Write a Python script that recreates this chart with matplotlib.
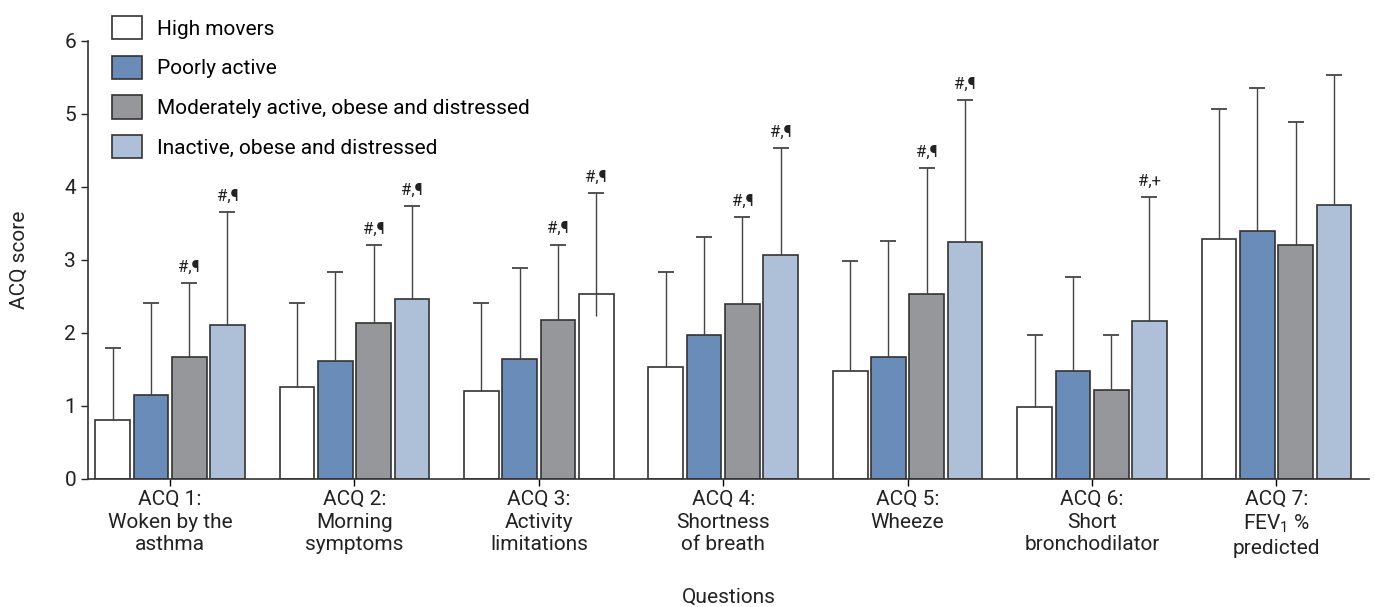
import numpy as np
import matplotlib
matplotlib.use("Agg")
import matplotlib.pyplot as plt

plt.rcParams['font.family'] = ['Roboto', 'DejaVu Sans']
plt.rcParams['mathtext.default'] = 'regular'

# ACQ item scores per cluster (mean and SD)
questions = ["ACQ 1:\nWoken by the\nasthma", "ACQ 2:\nMorning\nsymptoms",
             "ACQ 3:\nActivity\nlimitations", "ACQ 4:\nShortness\nof breath",
             "ACQ 5:\nWheeze", "ACQ 6:\nShort\nbronchodilator",
             "ACQ 7:\nFEV$_1$ %\npredicted"]
groups = ["High movers", "Poorly active",
          "Moderately active, obese and distressed",
          "Inactive, obese and distressed"]

high_mean = [0.80, 1.25, 1.20, 1.53, 1.47, 0.98, 3.29]
high_sd = [0.99, 1.16, 1.21, 1.30, 1.52, 0.99, 1.78]
poor_mean = [1.15, 1.61, 1.64, 1.97, 1.67, 1.47, 3.40]
poor_sd = [1.26, 1.22, 1.25, 1.34, 1.59, 1.29, 1.96]
moderate_mean = [1.67, 2.14, 2.17, 2.40, 2.53, 1.21, 3.20]
moderate_sd = [1.01, 1.06, 1.04, 1.19, 1.73, 0.76, 1.69]
inactive_mean = [2.11, 2.46, 2.53, 3.07, 3.25, 2.16, 3.75]
inactive_sd = [1.55, 1.28, 1.39, 1.46, 1.94, 1.70, 1.78]

# significance marks above the error bars
high_sig = [""] * 7
poor_sig = [""] * 7
moderate_sig = ["#,¶", "#,¶", "#,¶", "#,¶", "#,¶", "", ""]
inactive_sig = ["#,¶", "#,¶", "#,¶", "#,¶", "#,¶", "#,+", ""]

means = [high_mean, poor_mean, moderate_mean, inactive_mean]
sds = [high_sd, poor_sd, moderate_sd, inactive_sd]
sigs = [high_sig, poor_sig, moderate_sig, inactive_sig]
colors = ["white", "#6a8cb9", "#96979a", "#aebfd8"]

# the ACQ 3 bar of the last group is printed unfilled, whisker starting inside it
unfilled = (3, 2)
whisker_start = {(3, 2): 2.23}

fig = plt.figure(figsize=(13.75, 6.07), dpi=100)
ax = fig.add_axes([0.064, 0.2114, 0.9319, 0.7211])

x = np.arange(len(questions))
width = 0.188
step = 0.2076
edge = "#333333"

for g in range(4):
    xs = x + (g - 1.5) * step
    m = np.array(means[g])
    s = np.array(sds[g])
    face = [colors[g]] * len(m)
    if unfilled[0] == g:
        face[unfilled[1]] = "white"
    ax.bar(xs, m, width, color=face, edgecolor=edge, linewidth=1.2,
           label=groups[g], zorder=2)
    lows = np.array([whisker_start.get((g, i), m[i]) for i in range(len(m))])
    ax.vlines(xs, lows, m + s, color="#444444", linewidth=1.0, zorder=3)
    ax.plot(xs, m + s, ls="none", marker="_", ms=11.5, mew=1.3,
            color="#444444", zorder=3)
    for i, txt in enumerate(sigs[g]):
        if txt:
            ax.annotate(txt, (xs[i], m[i] + s[i]), xytext=(0, 6),
                        textcoords="offset points", ha="center", va="bottom",
                        fontsize=12, color="#222222")

ax.set_xlim(-0.445, 6.504)
ax.set_ylim(0, 6)
ax.set_yticks(range(7))
ax.set_xticks(x)
ax.set_xticklabels(questions, fontsize=15, color="#222222", linespacing=1.25)
ax.tick_params(axis="y", labelsize=15, colors="#222222", length=5, width=1)
ax.tick_params(axis="x", length=5, width=1, pad=3)
for side in ["top", "right"]:
    ax.spines[side].set_visible(False)
for side in ["left", "bottom"]:
    ax.spines[side].set_color("#333333")
    ax.spines[side].set_linewidth(1.2)

ax.set_xlabel("Questions", fontsize=15, color="#222222")
ax.xaxis.set_label_coords(0.5, -0.25)
ax.set_ylabel("ACQ score", fontsize=15, color="#222222")
ax.yaxis.set_label_coords(-0.046, 0.5)

ax.legend(loc="upper left", bbox_to_anchor=(112 / 1375, 1 - 16 / 607),
          bbox_transform=fig.transFigure, frameon=False, fontsize=15,
          handlelength=1.45, handleheight=1.35, labelspacing=0.78,
          handletextpad=0.7, borderpad=0, borderaxespad=0)

fig.savefig("out.png", dpi=100)
